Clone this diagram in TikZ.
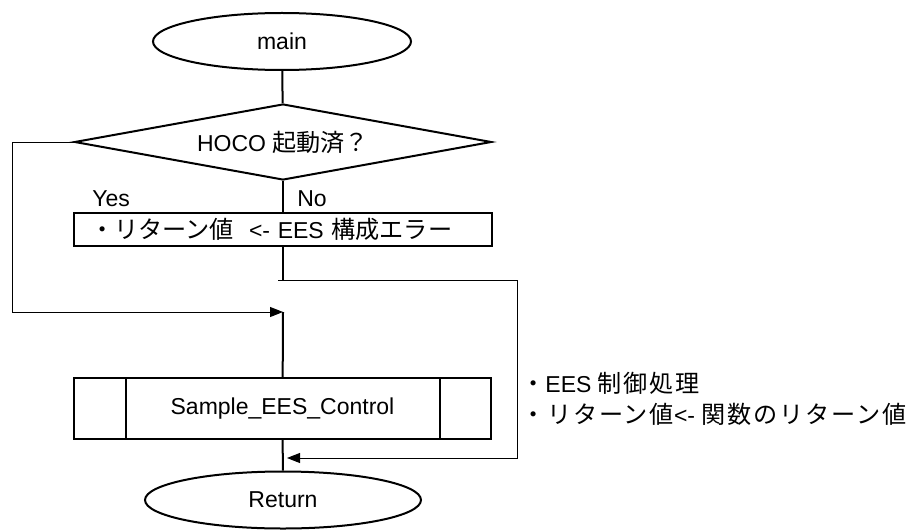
\documentclass[tikz,border=0pt]{standalone}
\usepackage{fontspec}
\setmainfont{Liberation Sans}
\newfontfamily\jp[Scale=1.05]{Noto Sans CJK JP}
\newfontfamily\jpnote[Scale=1.05,LetterSpace=7.5]{Noto Sans CJK JP}
\usetikzlibrary{arrows.meta,shapes.geometric}

\begin{document}
\begin{tikzpicture}[x=0.75pt,y=-0.75pt,font=\fontsize{17.25}{21}\selectfont]
\useasboundingbox (0,0) rectangle (912,531);
\begin{scope}[every node/.style={ellipse,draw,line width=1.5pt,inner sep=0pt,
                                 minimum width=193.5pt,minimum height=42.75pt}]
    \node (main) at (282,41.5) {main};
    \node (ret) at (283,500) [minimum width=207pt] {Return};
\end{scope}
\begin{scope}[every node/.style={draw,line width=1.5pt,inner sep=0pt}]
    \node (hoco) at (283,142) [diamond,aspect=5.5,
        minimum width=312.75pt,minimum height=57pt] {HOCO {\jp 起動済？}};
    \node (err) at (283,229.5) [rectangle,minimum height=24.75pt,
        text width=289.5pt,inner xsep=12pt,align=left]
        {{\jp ・リターン値}\ \ <- EES {\jp 構成エラー}};
    \node (sub) at (282.5,408.5) [rectangle,minimum width=312.75pt,
        minimum height=45.75pt] {Sample\_EES\_Control};
\end{scope}
\draw[line width=1.5pt] ([xshift=39.75pt]sub.north west) -- ([xshift=39.75pt]sub.south west);
\draw[line width=1.5pt] ([xshift=-39pt]sub.north east) -- ([xshift=-39pt]sub.south east);
% branch labels and notes
\begin{scope}[every node/.style={anchor=west,inner sep=0pt}]
    \node (yes) at (92,199) {Yes};
    \node (no) at (297,199) {No};
    \node (notes) at (521,399) [align=left]
        {{\jpnote ・}EES {\jpnote 制御処理}\\[2pt]{\jpnote ・リターン値}<- {\jpnote 関数のリターン値}};
\end{scope}
% corners of the two bypass lines
\coordinate (yesend) at (12,142);
\coordinate (join) at (283,312);
\coordinate (noend) at (283,280);
\coordinate (nostart) at (278,280);
\coordinate (noright) at (517,280);
\coordinate (retjoin) at (287,458);
\begin{scope}[>={Triangle[length=9.75pt,width=7.5pt]},
              every edge/.style={draw,line width=1.5pt}]
    \path [-] (main) edge (hoco);
    \path [-] (hoco) edge (err);
    \path [-] (err) edge (noend);
    \path [-] (join) edge (sub);
    \path [-] (sub) edge (ret);
    \draw [->,line width=0.75pt] (hoco.west) -- (yesend) |- (join);
    \draw [->,line width=0.75pt] (nostart) -- (noright) |- (retjoin);
\end{scope}
\end{tikzpicture}
\end{document}
